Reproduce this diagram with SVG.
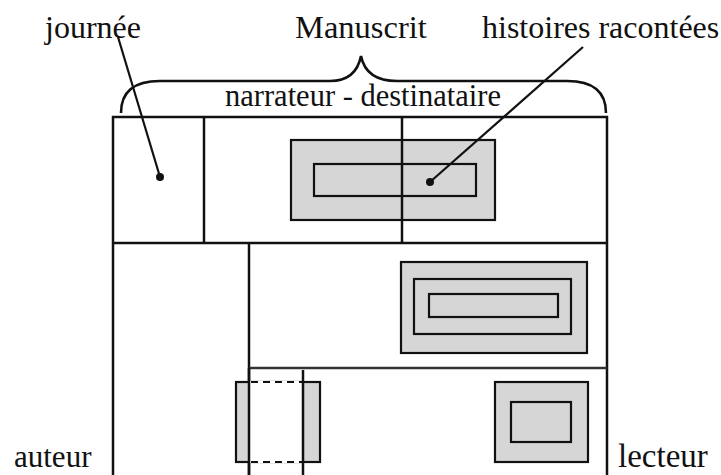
<svg xmlns="http://www.w3.org/2000/svg" width="721" height="475" viewBox="0 0 721 475">
<style>
.fr{fill:none;stroke:#111;stroke-width:2.5}
.g{fill:#d6d6d6;stroke:#111;stroke-width:2.2}
.ln{fill:none;stroke:#111;stroke-width:2.2}
.dash{fill:none;stroke:#111;stroke-width:2;stroke-dasharray:7 5}
</style>
<rect width="721" height="475" fill="#fff"/>
<g id="frame">
<path class="fr" d="M113,475 V117 H607 V475"/>
<path class="fr" d="M113,243 H607"/>
<path class="fr" d="M204,117 V243"/>
<path class="fr" d="M402,117 V243"/>
<path class="fr" d="M249,243 V475"/>
<path d="M249,368 H607" fill="none" stroke="#333" stroke-width="2.5"/>
</g>
<g id="histoires-box">
<rect class="g" x="291" y="140" width="204" height="80"/>
<rect class="g" x="314" y="164" width="162" height="32"/>
<path class="fr" d="M402,140 V220"/>
</g>
<g id="nested-box">
<rect class="g" x="401" y="262" width="186" height="91"/>
<rect class="g" x="414" y="279" width="157" height="55"/>
<rect class="g" x="429" y="294" width="129" height="23"/>
</g>
<g id="small-box">
<rect class="g" x="495" y="382" width="93" height="80"/>
<rect class="g" x="511" y="402" width="60" height="40"/>
</g>
<g id="split-box">
<rect class="g" x="236" y="382" width="84" height="80"/>
<rect x="250" y="381" width="52" height="82" fill="#fff"/>
<path class="dash" d="M251,382 H302 M251,462 H302"/>
<path class="fr" d="M249,368 V475 M303,370 V475"/>
</g>
<g id="labels">
<text x="45" y="38" font-family="'Liberation Serif', 'Times New Roman', serif" font-size="32" fill="#111">journ&#233;e</text>
<text x="295" y="38" font-family="'Liberation Serif', 'Times New Roman', serif" font-size="32.5" fill="#111">Manuscrit</text>
<text x="482" y="38" font-family="'Liberation Serif', 'Times New Roman', serif" font-size="32" fill="#111">histoires racont&#233;es</text>
<text x="225" y="106" font-family="'Liberation Serif', 'Times New Roman', serif" font-size="30.5" fill="#111">narrateur - destinataire</text>
<text x="14" y="467" font-family="'Liberation Serif', 'Times New Roman', serif" font-size="31" fill="#111">auteur</text>
<text x="618" y="467" font-family="'Liberation Serif', 'Times New Roman', serif" font-size="33" fill="#111">lecteur</text>
</g>
<g id="connectors">
<path d="M121,113 Q121,81 160,81 H330 Q356,81 361,56 Q366,81 397,81 H567 Q606,81 606,113" fill="none" stroke="#111" stroke-width="2.6"/>
<path class="ln" d="M118,37 L160,177"/>
<circle cx="160" cy="177" r="4" fill="#111"/>
<path class="ln" d="M583,47 L430,182"/>
<circle cx="430" cy="182" r="4" fill="#111"/>
</g>
</svg>
